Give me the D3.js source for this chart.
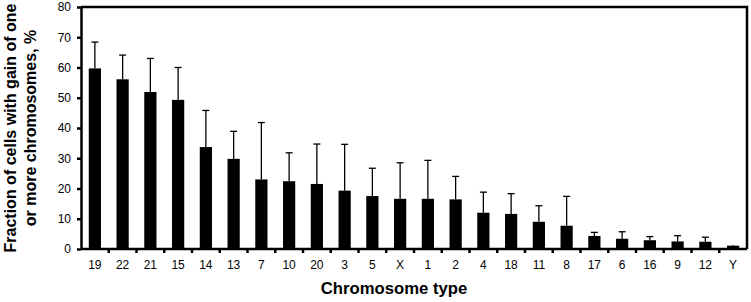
<!DOCTYPE html>
<html>
<head>
<meta charset="utf-8">
<script src="https://cdn.jsdelivr.net/npm/d3@7"></script>
<style>
  body { margin: 0; background: #fff; }
  svg { font-family: "Liberation Sans", Arial, sans-serif; }
</style>
</head>
<body>
<script>
// chromosome categories, in the order shown
const chromosomes = ["19","22","21","15","14","13","7","10","20","3","5","X","1","2","4","18","11","8","17","6","16","9","12","Y"];
// mean fraction (%) of cells with gain
const gainMean = [59.7,56.1,51.9,49.3,33.7,29.8,23.0,22.4,21.5,19.3,17.5,16.6,16.6,16.4,12.0,11.6,9.0,7.7,4.3,3.4,2.9,2.5,2.4,1.1];
// top of the error bar (%)
const gainUpper = [68.4,64.1,63.0,60.0,45.8,38.9,41.8,31.8,34.7,34.6,26.7,28.5,29.3,24.0,18.8,18.3,14.3,17.4,5.5,5.7,4.1,4.4,3.9,1.3];
const yTicks = [0,10,20,30,40,50,60,70,80];

const data = chromosomes.map((c, i) => ({ chrom: c, mean: gainMean[i], upper: gainUpper[i] }));

const width = 751;
const height = 302;
const marginTop = 7;
const marginRight = 4;
const marginBottom = 53;
const marginLeft = 81;

const x = d3.scaleBand()
    .domain(chromosomes)
    .range([marginLeft, width - marginRight])
    .paddingInner(0.56)
    .paddingOuter(0.28);

const y = d3.scaleLinear()
    .domain([0, 80])
    .range([height - marginBottom, marginTop]);

const svg = d3.select("body").append("svg")
    .attr("width", width)
    .attr("height", height)
    .attr("viewBox", [0, 0, width, height]);

// error bars (drawn first, bars cover the lower part)
const err = svg.append("g")
    .attr("stroke", "#000")
    .attr("stroke-width", 1.3)
    .selectAll("g")
    .data(data)
    .join("g");

err.append("line")
    .attr("x1", d => x(d.chrom) + x.bandwidth() / 2)
    .attr("x2", d => x(d.chrom) + x.bandwidth() / 2)
    .attr("y1", d => y(d.mean))
    .attr("y2", d => y(d.upper));

err.filter(d => d.upper - d.mean > 0.5).append("line")
    .attr("x1", d => x(d.chrom) + x.bandwidth() / 2 - 3.5)
    .attr("x2", d => x(d.chrom) + x.bandwidth() / 2 + 3.5)
    .attr("y1", d => y(d.upper))
    .attr("y2", d => y(d.upper));

// bars
svg.append("g")
    .attr("fill", "#000")
    .selectAll("rect")
    .data(data)
    .join("rect")
    .attr("x", d => x(d.chrom))
    .attr("y", d => y(d.mean))
    .attr("width", x.bandwidth())
    .attr("height", d => y(0) - y(d.mean));

// frame: top and right lines
svg.append("path")
    .attr("fill", "none")
    .attr("stroke", "#000")
    .attr("stroke-width", 2.5)
    .attr("d", `M${marginLeft},${marginTop}H${width - marginRight}V${height - marginBottom}`);

// x axis with ticks between categories
const xAxis = svg.append("g")
    .attr("transform", `translate(0,${height - marginBottom})`);

xAxis.append("line")
    .attr("x1", marginLeft)
    .attr("x2", width - marginRight)
    .attr("stroke", "#000")
    .attr("stroke-width", 2.5);

const step = x.step();
xAxis.selectAll(".sep")
    .data(chromosomes.slice(1))
    .join("line")
    .attr("class", "sep")
    .attr("x1", d => x(d) - step * x.paddingInner() / 2)
    .attr("x2", d => x(d) - step * x.paddingInner() / 2)
    .attr("y1", 0)
    .attr("y2", 4)
    .attr("stroke", "#000")
    .attr("stroke-width", 2.5);

xAxis.selectAll(".lbl")
    .data(chromosomes)
    .join("text")
    .attr("class", "lbl")
    .attr("x", d => x(d) + x.bandwidth() / 2)
    .attr("y", 20)
    .attr("text-anchor", "middle")
    .attr("font-size", 12)
    .attr("fill", "#000")
    .text(d => d);

// y axis
svg.append("g")
    .attr("transform", `translate(${marginLeft},0)`)
    .call(d3.axisLeft(y).tickValues(yTicks).tickSize(4).tickPadding(6).tickSizeOuter(0))
    .call(g => g.select(".domain").attr("stroke-width", 2.5))
    .call(g => g.selectAll(".tick line").attr("stroke-width", 2.5))
    .call(g => g.selectAll("text").attr("font-size", 12).attr("fill", "#000")
        .attr("font-family", "Liberation Sans, Arial, sans-serif"));

// axis titles
svg.append("text")
    .attr("x", 394)
    .attr("y", 294)
    .attr("text-anchor", "middle")
    .attr("font-size", 16.7)
    .attr("font-weight", "bold")
    .text("Chromosome type");

const yTitle = svg.append("text")
    .attr("transform", `translate(15.5,${(marginTop + height - marginBottom) / 2}) rotate(-90)`)
    .attr("text-anchor", "middle")
    .attr("font-size", 16)
    .attr("font-weight", "bold");
yTitle.append("tspan").attr("x", 0).attr("dy", 0).text("Fraction of cells with gain of one");
yTitle.append("tspan").attr("x", 0).attr("dy", 20.5).text("or more chromosomes, %");
</script>
</body>
</html>
